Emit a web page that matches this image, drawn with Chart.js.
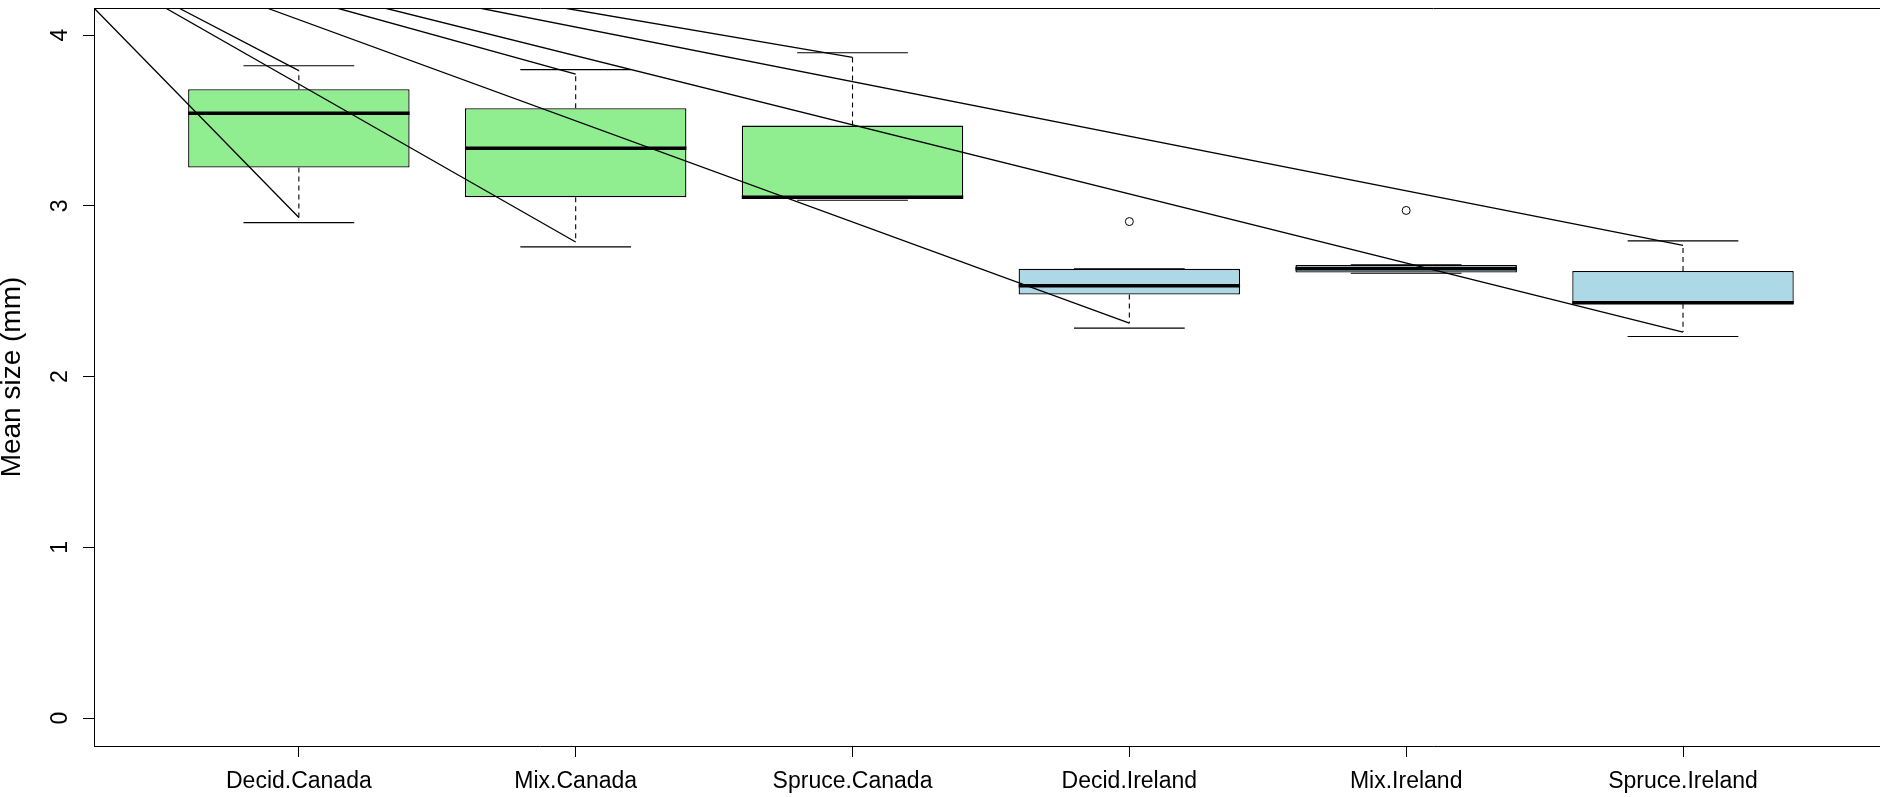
<!DOCTYPE html>
<html>
<head>
<meta charset="utf-8">
<title>Mean size by forest type</title>
<script src="https://cdn.jsdelivr.net/npm/chart.js@4.4.1/dist/chart.umd.min.js"></script>
<style>
  html, body { margin: 0; padding: 0; background: #fff; }
</style>
</head>
<body>
<canvas id="myChart" width="1884" height="797"></canvas>
<script>
// box statistics
const categories = ['Decid.Canada', 'Mix.Canada', 'Spruce.Canada', 'Decid.Ireland', 'Mix.Ireland', 'Spruce.Ireland'];
const regions = ['Canada', 'Canada', 'Canada', 'Ireland', 'Ireland', 'Ireland'];
const q1 = [3.224, 3.051, 3.051, 2.481, 2.610, 2.427];
const medians = [3.542, 3.338, 3.051, 2.532, 2.631, 2.432];
const q3 = [3.683, 3.572, 3.470, 2.631, 2.653, 2.618];
const whiskerLow = [2.902, 2.760, 3.033, 2.284, 2.605, 2.235];
const whiskerHigh = [3.821, 3.798, 3.897, 2.631, 2.655, 2.795];
// ends of the dashed whiskers (they stop a little short of the caps)
const dashLow = [2.932, 2.788, null, 2.313, null, 2.261];
const dashHigh = [3.792, 3.772, 3.870, null, null, 2.768];
// outliers
const outlierGroup = [4, 5];
const outlierValue = [2.908, 2.973];
// stray lines coming down from the top border to whisker ends
const traceStartX = [0.26, 0.518, 0.566, 0.884, 1.137, 1.31, 1.652, 1.958];
const traceGroup = [1, 2, 1, 4, 2, 6, 6, 3];
const traceEnd = ['low', 'low', 'high', 'low', 'high', 'low', 'high', 'high'];
const yTicks = [0, 1, 2, 3, 4];

const yMin = -0.164;
const yMax = 4.159;
const xMin = 0.26;
const xMax = 6.708;
const boxHalf = 0.4;
const capHalf = 0.2;
const regionColor = { Canada: '#90EE90', Ireland: '#ADD8E6' };
const fontFamily = '"Liberation Sans", Arial, sans-serif';

const ctx = document.getElementById('myChart');

function segments(list) {
  // list of [x0, y0, x1, y1] -> points with gaps between segments
  var pts = [];
  for (var i = 0; i < list.length; i++) {
    var s = list[i];
    pts.push({ x: s[0], y: s[1] });
    pts.push({ x: s[2], y: s[3] });
    pts.push({ x: s[2], y: null });
  }
  return pts;
}

var medianSegs = [];
var capSegs = [];
var dashSegs = [];
for (var i = 0; i < categories.length; i++) {
  var x = i + 1;
  medianSegs.push([x - boxHalf, medians[i], x + boxHalf, medians[i]]);
  capSegs.push([x - capHalf, whiskerLow[i], x + capHalf, whiskerLow[i]]);
  capSegs.push([x - capHalf, whiskerHigh[i], x + capHalf, whiskerHigh[i]]);
  if (dashHigh[i] !== null) dashSegs.push([x, q3[i], x, dashHigh[i]]);
  if (dashLow[i] !== null) dashSegs.push([x, q1[i], x, dashLow[i]]);
}

var traceSegs = [];
for (var j = 0; j < traceStartX.length; j++) {
  var g = traceGroup[j] - 1;
  var endY = traceEnd[j] === 'low' ? dashLow[g] : dashHigh[g];
  traceSegs.push([traceStartX[j], yMax, traceGroup[j], endY]);
}

// y tick labels written parallel to the axis, R style
const yLabelPlugin = {
  id: 'yLabels',
  afterDraw: function (chart) {
    var c = chart.ctx;
    var sc = chart.scales.y;
    c.save();
    c.fillStyle = '#000';
    c.font = '23px ' + fontFamily;
    c.textAlign = 'center';
    c.textBaseline = 'middle';
    for (var k = 0; k < yTicks.length; k++) {
      c.save();
      c.translate(59.5, sc.getPixelForValue(yTicks[k]));
      c.rotate(-Math.PI / 2);
      c.fillText(String(yTicks[k]), 0, 1);
      c.restore();
    }
    c.restore();
  }
};

const lineBase = { type: 'line', pointRadius: 0, borderColor: '#000', fill: false, tension: 0, spanGaps: false };

new Chart(ctx, {
  data: {
    datasets: [
      {
        type: 'bar',
        label: 'box',
        data: categories.map(function (c, i) { return { x: i + 1, y: [q1[i], q3[i]] }; }),
        backgroundColor: regions.map(function (r) { return regionColor[r]; }),
        borderColor: '#000',
        borderWidth: 1.3,
        borderSkipped: false,
        barPercentage: 0.8,
        categoryPercentage: 1,
        order: 6
      },
      Object.assign({}, lineBase, { label: 'median', data: segments(medianSegs), borderWidth: 3.5, order: 5 }),
      Object.assign({}, lineBase, { label: 'whisker', data: segments(dashSegs), borderWidth: 1.1, borderDash: [5, 4], order: 4 }),
      Object.assign({}, lineBase, { label: 'cap', data: segments(capSegs), borderWidth: 1.1, order: 4 }),
      {
        type: 'scatter',
        label: 'outlier',
        data: outlierGroup.map(function (g, i) { return { x: g, y: outlierValue[i] }; }),
        pointStyle: 'circle',
        pointRadius: 4,
        backgroundColor: 'rgba(0,0,0,0)',
        borderColor: '#000',
        borderWidth: 1,
        order: 3
      },
      Object.assign({}, lineBase, { label: 'trace', data: segments(traceSegs), borderWidth: 1.3, order: 1 })
    ]
  },
  options: {
    responsive: false,
    animation: false,
    devicePixelRatio: 1,
    layout: { padding: 0 },
    plugins: { legend: { display: false }, tooltip: { enabled: false } },
    scales: {
      x: {
        type: 'linear',
        position: 'bottom',
        offset: false,
        min: xMin,
        max: xMax,
        afterBuildTicks: function (scale) {
          scale.ticks = categories.map(function (c, i) { return { value: i + 1 }; });
        },
        afterFit: function (scale) { scale.height = 51; scale.paddingLeft = 0; scale.paddingRight = 0; },
        ticks: {
          autoSkip: false,
          maxRotation: 0,
          padding: 11,
          color: '#000',
          font: { family: fontFamily, size: 23 },
          callback: function (v) { return categories[Math.round(v) - 1]; }
        },
        grid: { display: true, drawOnChartArea: false, drawTicks: true, tickLength: 11, color: '#000', tickWidth: 1, offset: false },
        border: { display: true, color: '#000', width: 1 }
      },
      x2: {
        type: 'linear',
        position: 'top',
        offset: false,
        min: xMin,
        max: xMax,
        afterFit: function (scale) { scale.height = 8; },
        ticks: { display: false },
        grid: { display: false, drawTicks: false },
        border: { display: true, color: '#000', width: 1 }
      },
      y: {
        type: 'linear',
        min: yMin,
        max: yMax,
        afterBuildTicks: function (scale) {
          scale.ticks = yTicks.map(function (v) { return { value: v }; });
        },
        afterFit: function (scale) { scale.width = 94; scale.paddingTop = 0; scale.paddingBottom = 0; },
        ticks: { display: false },
        grid: { display: true, drawOnChartArea: false, drawTicks: true, tickLength: 11, color: '#000', tickWidth: 1 },
        border: { display: true, color: '#000', width: 1 },
        title: {
          display: true,
          text: 'Mean size (mm)',
          color: '#000',
          padding: 0,
          font: { family: fontFamily, size: 28, lineHeight: 0.9 }
        }
      }
    }
  },
  plugins: [yLabelPlugin]
});
</script>
</body>
</html>
